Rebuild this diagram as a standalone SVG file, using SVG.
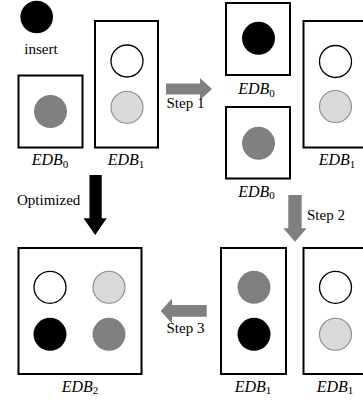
<svg xmlns="http://www.w3.org/2000/svg" width="363" height="400" viewBox="0 0 363 400">
  <style>
    text { font-family: "Times New Roman", "Liberation Serif", Times, "DejaVu Serif", serif; fill: #000; }
    .lbl { font-size: 15px; }
    .edb { font-size: 16px; font-style: italic; text-anchor: middle; }
    .sub { font-size: 11px; font-style: normal; }
    .box { fill: #fff; stroke: #000; stroke-width: 2; }
    .c-black { fill: #000; }
    .c-white { fill: #fff; stroke: #000; stroke-width: 1.3; }
    .c-light { fill: #d9d9d9; stroke: #8c8c8c; stroke-width: 1.1; }
    .c-gray { fill: #808080; }
    .arr-gray { fill: #808080; }
    .arr-black { fill: #000; }
  </style>

  <!-- record being inserted -->
  <g id="insert">
    <circle class="c-black" cx="36.7" cy="17" r="16.3"/>
    <text class="lbl" x="41" y="54" text-anchor="middle">insert</text>
  </g>

  <!-- initial state -->
  <g id="edb0-initial">
    <rect class="box" x="18.5" y="75.5" width="64" height="72"/>
    <circle class="c-gray" cx="50.5" cy="111.5" r="16.5"/>
    <text class="edb" x="50" y="165">EDB<tspan class="sub" dy="2.5">0</tspan></text>
  </g>
  <g id="edb1-initial">
    <rect class="box" x="95" y="21" width="63" height="126.5"/>
    <circle class="c-white" cx="127" cy="61" r="16"/>
    <circle class="c-light" cx="127" cy="107.3" r="16"/>
    <text class="edb" x="126" y="165">EDB<tspan class="sub" dy="2.5">1</tspan></text>
  </g>

  <!-- after step 1 -->
  <g id="edb0-new">
    <rect class="box" x="226" y="3" width="64" height="72"/>
    <circle class="c-black" cx="258.5" cy="38.3" r="16.5"/>
    <text class="edb" x="256.5" y="94">EDB<tspan class="sub" dy="2.5">0</tspan></text>
  </g>
  <g id="edb0-old">
    <rect class="box" x="226" y="107" width="64" height="71.5"/>
    <circle class="c-gray" cx="258.5" cy="143.3" r="16.5"/>
    <text class="edb" x="256.5" y="196.5">EDB<tspan class="sub" dy="2.5">0</tspan></text>
  </g>
  <g id="edb1-step1">
    <rect class="box" x="303.5" y="21" width="63" height="126.5"/>
    <circle class="c-white" cx="335.5" cy="61.5" r="16"/>
    <circle class="c-light" cx="335.5" cy="106.5" r="16"/>
    <text class="edb" x="337" y="165">EDB<tspan class="sub" dy="2.5">1</tspan></text>
  </g>

  <!-- after step 2 -->
  <g id="edb1-merged">
    <rect class="box" x="221" y="248" width="65" height="126"/>
    <circle class="c-gray" cx="254" cy="287.3" r="16.5"/>
    <circle class="c-black" cx="254" cy="334.3" r="16.5"/>
    <text class="edb" x="253" y="391.5">EDB<tspan class="sub" dy="2.5">1</tspan></text>
  </g>
  <g id="edb1-step2">
    <rect class="box" x="303.5" y="248" width="63" height="126"/>
    <circle class="c-white" cx="335.5" cy="287.3" r="16"/>
    <circle class="c-light" cx="335.5" cy="334.3" r="16"/>
    <text class="edb" x="335" y="391.5">EDB<tspan class="sub" dy="2.5">1</tspan></text>
  </g>

  <!-- final merged level -->
  <g id="edb2">
    <rect class="box" x="18.5" y="248" width="123" height="126"/>
    <circle class="c-white" cx="50" cy="287.3" r="16"/>
    <circle class="c-light" cx="109" cy="287.3" r="16"/>
    <circle class="c-black" cx="50" cy="334.3" r="16.5"/>
    <circle class="c-gray" cx="109" cy="334.3" r="16.5"/>
    <text class="edb" x="80" y="391.5">EDB<tspan class="sub" dy="2.5">2</tspan></text>
  </g>

  <!-- block arrows between states -->
  <g id="connectors">
    <polygon class="arr-gray" points="166,83.5 200,83.5 200,78 212,89 200,100 200,94.5 166,94.5"/>
    <text class="lbl" x="166.5" y="108">Step 1</text>

    <polygon class="arr-gray" points="288.3,195 301.7,195 301.7,228.3 306.7,228.3 295,241.7 283.3,228.3 288.3,228.3"/>
    <text class="lbl" x="307" y="220">Step 2</text>

    <polygon class="arr-gray" points="206.7,305 172,305 172,298.5 160.7,311 172,323.5 172,316.7 206.7,316.7"/>
    <text class="lbl" x="166.5" y="333">Step 3</text>

    <polygon class="arr-black" points="89.5,175 101.7,175 101.7,218.3 106.7,218.3 95.2,235 83.5,218.3 89.5,218.3"/>
    <text class="lbl" x="17" y="205">Optimized</text>
  </g>
</svg>
